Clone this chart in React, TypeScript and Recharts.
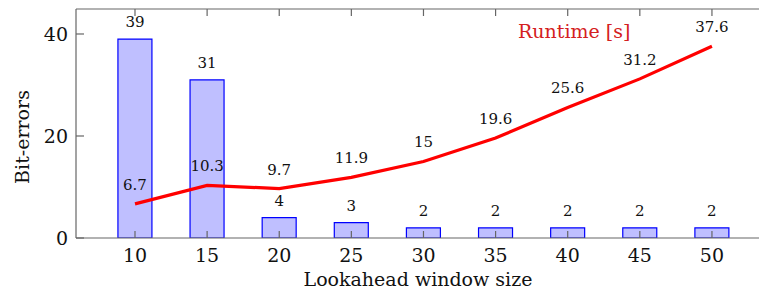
import {
  Bar,
  ComposedChart,
  LabelList,
  Line,
  XAxis,
  YAxis,
} from "recharts";

const windowSizes = [10, 15, 20, 25, 30, 35, 40, 45, 50];
const bitErrors = [39, 31, 4, 3, 2, 2, 2, 2, 2];
const runtimes = [6.7, 10.3, 9.7, 11.9, 15, 19.6, 25.6, 31.2, 37.6];
const yTicks = [0, 20, 40];

const data = windowSizes.map((w, i) => ({ w, errors: bitErrors[i], runtime: runtimes[i] }));

const FONT = "'DejaVu Serif', 'Times New Roman', serif";
const AXIS = "#666";
const INK = "#111";
const BAR_FILL = "#bfbfff";
const BAR_STROKE = "#0000ff";
const LINE = "#ff0000";
const LEGEND = "#d42020";

const PLOT_LEFT = 76;
const PLOT_TOP = 9;
const PLOT_BOTTOM = 238;

function YTick(props: any) {
  const { y, payload } = props;
  return (
    <g>
      <line x1={PLOT_LEFT} x2={PLOT_LEFT + 8} y1={y} y2={y} stroke={AXIS} strokeWidth={1.2} />
      <text x={68} y={y} textAnchor="end" dominantBaseline="central" fill={INK} fontSize={19} style={{ fontFamily: FONT }}>
        {payload.value}
      </text>
    </g>
  );
}

function XTick(props: any) {
  const { x, payload } = props;
  return (
    <g>
      <line x1={x} x2={x} y1={PLOT_BOTTOM} y2={PLOT_BOTTOM - 7} stroke={AXIS} strokeWidth={1.2} />
      <text x={x} y={255} textAnchor="middle" dominantBaseline="central" fill={INK} fontSize={19} style={{ fontFamily: FONT }}>
        {payload.value}
      </text>
    </g>
  );
}

function TopTick(props: any) {
  const { x } = props;
  return <line x1={x} x2={x} y1={PLOT_TOP} y2={PLOT_TOP + 7} stroke={AXIS} strokeWidth={1.2} />;
}

function makeLabel(offset: number) {
  return (props: any) => {
    const { x, y, width, value } = props;
    const cx = x + (width || 0) / 2;
    return (
      <text x={cx} y={y - offset} textAnchor="middle" fill={INK} fontSize={15} style={{ fontFamily: FONT }}>
        {value}
      </text>
    );
  };
}

export default function App() {
  return (
    <div style={{ position: "absolute", left: 0, top: 0, width: 759, height: 294, overflow: "hidden", background: "#fff" }}>
      <ComposedChart
        width={762}
        height={294}
        data={data}
        margin={{ top: 0, right: 0, bottom: 0, left: 0 }}
      >
        <XAxis
          xAxisId="top"
          orientation="top"
          dataKey="w"
          type="number"
          domain={[5.91, 53.47]}
          ticks={windowSizes}
          height={PLOT_TOP}
          stroke={AXIS}
          strokeWidth={1.2}
          tickLine={false}
          tick={<TopTick />}
          allowDataOverflow
        />
        <XAxis
          xAxisId="bottom"
          dataKey="w"
          type="number"
          domain={[5.91, 53.47]}
          ticks={windowSizes}
          height={294 - PLOT_BOTTOM}
          stroke={AXIS}
          strokeWidth={1.2}
          tickLine={false}
          tick={<XTick />}
          allowDataOverflow
          label={{
            content: () => (
              <text x={418} y={279} textAnchor="middle" dominantBaseline="central" fill={INK} fontSize={19} style={{ fontFamily: FONT }}>
                Lookahead window size
              </text>
            ),
          }}
        />
        <YAxis
          type="number"
          domain={[0, 44.9]}
          ticks={yTicks}
          width={PLOT_LEFT}
          stroke={AXIS}
          strokeWidth={1.2}
          tickLine={false}
          tick={<YTick />}
          allowDataOverflow
          label={{
            content: () => (
              <text
                x={22}
                y={137}
                transform="rotate(-90 22 137)"
                textAnchor="middle"
                dominantBaseline="central"
                fill={INK}
                fontSize={19}
                style={{ fontFamily: FONT }}
              >
                Bit-errors
              </text>
            ),
          }}
        />
        <Bar
          xAxisId="bottom"
          dataKey="errors"
          barSize={34}
          fill={BAR_FILL}
          stroke={BAR_STROKE}
          strokeWidth={1.2}
          isAnimationActive={false}
        >
          <LabelList dataKey="errors" content={makeLabel(12)} />
        </Bar>
        <Line
          xAxisId="bottom"
          dataKey="runtime"
          stroke={LINE}
          strokeWidth={3.2}
          dot={false}
          isAnimationActive={false}
        >
          <LabelList dataKey="runtime" content={makeLabel(14)} />
        </Line>
      </ComposedChart>
      <div
        style={{
          position: "absolute",
          left: 518,
          top: 19,
          color: LEGEND,
          fontFamily: FONT,
          fontSize: 19,
          lineHeight: "24px",
          whiteSpace: "nowrap",
        }}
      >
        Runtime [s]
      </div>
    </div>
  );
}
